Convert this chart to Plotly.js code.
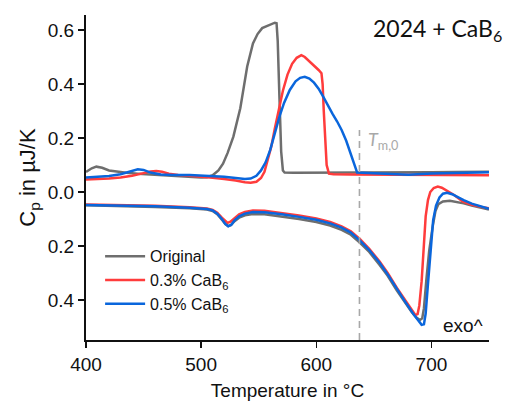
<!DOCTYPE html>
<html>
<head>
<meta charset="utf-8">
<script src="https://cdn.plot.ly/plotly-3.0.1.min.js"></script>
<style>
  html, body { margin: 0; padding: 0; background: #fff; }
  #chart { width: 505px; height: 403px; }
</style>
</head>
<body>
<div id="chart"></div>
<script>
// Heat capacity of alloy 2024 with CaB6 additions: heating (upper) and cooling (lower) runs.

// Original alloy, heating
const origHeatT  = [400, 405, 409, 414, 420, 428, 435, 445, 455, 470, 485, 500, 505, 510, 515, 519, 523, 528, 534, 540, 545, 549, 553, 558, 564, 565.5, 566.5, 568, 569.5, 571, 572.5, 580, 600, 620, 640, 660, 680, 700, 720, 750];
const origHeatCp = [0.074, 0.088, 0.094, 0.090, 0.080, 0.074, 0.071, 0.068, 0.065, 0.061, 0.057, 0.054, 0.055, 0.062, 0.080, 0.105, 0.145, 0.205, 0.310, 0.465, 0.550, 0.585, 0.607, 0.615, 0.627, 0.625, 0.560, 0.350, 0.150, 0.080, 0.072, 0.071, 0.071, 0.071, 0.071, 0.072, 0.073, 0.073, 0.074, 0.075];

// Original alloy, cooling
const origCoolT  = [400, 430, 460, 490, 505, 510, 514, 518, 521, 523.5, 526, 529, 533, 538, 545, 555, 570, 585, 600, 612, 622, 630, 638, 646, 655, 662, 670, 677, 683, 687, 690, 692, 693.5, 695.5, 698, 701, 703.5, 706, 710, 716, 722, 728, 735, 742, 750];
const origCoolCp = [-0.049, -0.051, -0.055, -0.060, -0.065, -0.070, -0.082, -0.102, -0.119, -0.126, -0.122, -0.108, -0.095, -0.086, -0.081, -0.082, -0.090, -0.100, -0.111, -0.124, -0.140, -0.158, -0.188, -0.222, -0.270, -0.310, -0.365, -0.410, -0.445, -0.465, -0.474, -0.468, -0.430, -0.330, -0.220, -0.130, -0.070, -0.045, -0.035, -0.032, -0.036, -0.042, -0.050, -0.058, -0.065];

// 0.3% CaB6, heating
const ca03HeatT  = [400, 410, 420, 430, 440, 450, 456, 461, 466, 472, 480, 490, 500, 510, 520, 530, 538, 543, 548, 552, 555, 558, 561, 564, 567, 571, 575, 579, 583, 587, 590, 594, 598, 602, 604.5, 605.5, 606.5, 607.5, 609, 611, 615, 630, 650, 680, 710, 750];
const ca03HeatCp = [0.046, 0.047, 0.050, 0.054, 0.060, 0.070, 0.076, 0.078, 0.075, 0.068, 0.063, 0.060, 0.057, 0.053, 0.048, 0.043, 0.036, 0.034, 0.038, 0.052, 0.075, 0.120, 0.170, 0.235, 0.300, 0.375, 0.435, 0.475, 0.497, 0.507, 0.500, 0.485, 0.468, 0.452, 0.440, 0.400, 0.300, 0.200, 0.100, 0.068, 0.066, 0.065, 0.064, 0.063, 0.063, 0.062];

// 0.3% CaB6, cooling
const ca03CoolT  = [400, 430, 460, 490, 505, 510, 514, 518, 521, 523, 525.5, 529, 533, 538, 545, 555, 570, 585, 600, 612, 622, 630, 638, 646, 655, 662, 670, 677, 683, 686, 688, 689.5, 691.5, 693.5, 695, 697, 699, 702, 705.5, 709, 714, 720, 727, 735, 742, 750];
const ca03CoolCp = [-0.046, -0.048, -0.051, -0.056, -0.061, -0.066, -0.077, -0.095, -0.108, -0.114, -0.110, -0.096, -0.083, -0.074, -0.068, -0.069, -0.077, -0.087, -0.098, -0.111, -0.127, -0.145, -0.175, -0.210, -0.257, -0.300, -0.355, -0.400, -0.440, -0.455, -0.452, -0.420, -0.330, -0.190, -0.090, -0.030, 0.000, 0.015, 0.020, 0.016, 0.004, -0.012, -0.035, -0.047, -0.054, -0.060];

// 0.5% CaB6, heating
const ca05HeatT  = [400, 410, 420, 430, 438, 445, 450, 456, 465, 475, 490, 505, 520, 530, 538, 543, 548, 552, 556, 560, 564, 568, 572, 577, 582, 586, 590, 594, 598, 602, 606, 610, 614, 618, 622, 626, 630, 633, 635.5, 640, 660, 680, 700, 720, 750];
const ca05HeatCp = [0.054, 0.056, 0.059, 0.066, 0.076, 0.084, 0.082, 0.072, 0.065, 0.063, 0.063, 0.060, 0.057, 0.052, 0.048, 0.050, 0.060, 0.080, 0.110, 0.156, 0.220, 0.279, 0.330, 0.378, 0.410, 0.423, 0.427, 0.420, 0.405, 0.383, 0.353, 0.320, 0.290, 0.262, 0.230, 0.190, 0.140, 0.100, 0.072, 0.071, 0.068, 0.064, 0.069, 0.071, 0.073];

// 0.5% CaB6, cooling
const ca05CoolT  = [400, 430, 460, 490, 505, 510, 514, 518, 521, 523.5, 526, 529, 533, 538, 545, 555, 570, 585, 600, 612, 622, 630, 638, 646, 655, 662, 670, 677, 684, 688, 691.5, 693.5, 695, 697, 699, 701.5, 704, 707, 710, 713.5, 718, 722, 728, 735, 742, 750];
const ca05CoolCp = [-0.048, -0.050, -0.053, -0.058, -0.063, -0.068, -0.080, -0.100, -0.118, -0.127, -0.122, -0.105, -0.090, -0.080, -0.074, -0.075, -0.082, -0.092, -0.103, -0.116, -0.132, -0.150, -0.180, -0.215, -0.262, -0.305, -0.360, -0.405, -0.450, -0.475, -0.492, -0.490, -0.450, -0.340, -0.220, -0.104, -0.050, -0.020, -0.006, -0.003, -0.008, -0.018, -0.030, -0.043, -0.053, -0.062];

// Series names and colours
const seriesNames  = ['Original', '0.3% CaB<sub>6</sub>', '0.5% CaB<sub>6</sub>'];
const seriesColors = ['#6e6e6e', '#ff3c3c', '#0a66dc'];

// Axis ticks (cooling half is plotted negative, labelled by magnitude)
const yTickVals = [-0.4, -0.2, 0.0, 0.2, 0.4, 0.6];
const yTickText = ['0.4', '0.2', '0.0', '0.2', '0.4', '0.6'];
const xTickVals = [400, 500, 600, 700];

// Onset of melting marker
const tm0 = 637.5;
const tm0Top = 0.23;

const runs = [
  [origHeatT, origHeatCp, origCoolT, origCoolCp],
  [ca03HeatT, ca03HeatCp, ca03CoolT, ca03CoolCp],
  [ca05HeatT, ca05HeatCp, ca05CoolT, ca05CoolCp]
];

const traces = [];
runs.forEach((r, i) => {
  const line = { color: seriesColors[i], width: 2.5 };
  traces.push({
    x: r[0], y: r[1], type: 'scatter', mode: 'lines', line: line,
    name: seriesNames[i], legendgroup: 'g' + i, showlegend: true
  });
  traces.push({
    x: r[2], y: r[3], type: 'scatter', mode: 'lines', line: line,
    name: seriesNames[i], legendgroup: 'g' + i, showlegend: false
  });
});

const sans = '"Liberation Sans", Arial, sans-serif';
const ink = '#111';

const layout = {
  width: 505, height: 403,
  margin: { l: 86, r: 16, t: 15, b: 63 },
  paper_bgcolor: '#fff', plot_bgcolor: '#fff',
  font: { family: sans, color: ink },
  showlegend: true,
  legend: {
    x: 0.035, y: 0.31, xanchor: 'left', yanchor: 'top',
    bgcolor: 'rgba(0,0,0,0)', borderwidth: 0,
    font: { family: sans, size: 16, color: ink },
    tracegroupgap: 0, itemwidth: 40
  },
  xaxis: {
    range: [400, 750], tickvals: xTickVals,
    showline: true, linecolor: ink, linewidth: 2,
    ticks: 'outside', ticklen: 6, tickwidth: 1.5, tickcolor: ink,
    showgrid: false, zeroline: false,
    tickfont: { family: sans, size: 19, color: ink },
    title: { text: 'Temperature in °C', font: { family: sans, size: 19, color: ink }, standoff: 10 }
  },
  yaxis: {
    range: [-0.548, 0.6556], tickvals: yTickVals, ticktext: yTickText,
    showline: true, linecolor: ink, linewidth: 2,
    ticks: 'outside', ticklen: 6, tickwidth: 1.5, tickcolor: ink,
    showgrid: false, zeroline: false,
    tickfont: { family: sans, size: 19, color: ink },
    title: { text: 'C<sub>p</sub> in \u00b5J/K', font: { family: sans, size: 22, color: ink }, standoff: 6 }
  },
  shapes: [{
    type: 'line', xref: 'x', yref: 'y',
    x0: tm0, x1: tm0, y0: -0.548, y1: tm0Top,
    line: { color: '#a8a8a8', width: 1.6, dash: '7px,5px' }
  }],
  annotations: [
    {
      text: '2024 + CaB<sub>6</sub>', xref: 'paper', yref: 'paper',
      x: 1.037, y: 0.955, xanchor: 'right', yanchor: 'middle', showarrow: false,
      font: { family: 'Lato, "Open Sans", sans-serif', size: 23, color: ink }
    },
    {
      text: '<i>T</i><sub>m,0</sub>', xref: 'x', yref: 'y',
      x: tm0 + 6, y: 0.19, xanchor: 'left', yanchor: 'middle', showarrow: false,
      font: { family: 'Lato, "Open Sans", sans-serif', size: 18, color: '#a8a8a8' }
    },
    {
      text: 'exo^', xref: 'paper', yref: 'paper',
      x: 0.99, y: 0.045, xanchor: 'right', yanchor: 'middle', showarrow: false,
      font: { family: sans, size: 19, color: ink }
    }
  ]
};

Plotly.newPlot('chart', traces, layout, { displayModeBar: false, staticPlot: true });
</script>
</body>
</html>
